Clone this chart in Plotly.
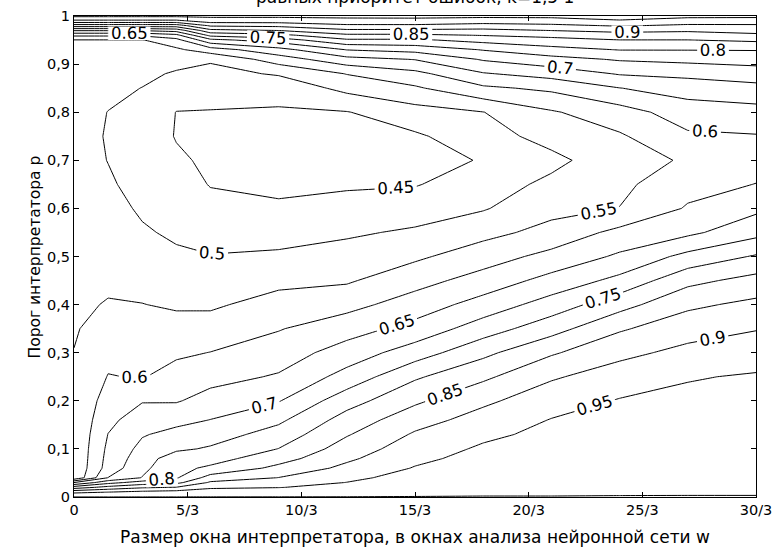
import plotly.graph_objects as go

# window size (in network analysis windows), 0 .. 30/3
x_w = [0, 0.5, 1, 1.5, 2, 3, 4, 5, 6, 7, 8, 9, 10]
# interpreter threshold p
y_p = [0, 0.01, 0.02, 0.03, 0.04, 0.06, 0.08, 0.1, 0.13, 0.16, 0.2, 0.25, 0.3, 0.35,
       0.4, 0.45, 0.5, 0.55, 0.6, 0.65, 0.7, 0.75, 0.8, 0.85, 0.88, 0.91, 0.93, 0.95,
       0.96, 0.97, 0.98, 0.99, 1.0]

# error values, one column per window size (bottom -> top)
z_w00 = [1.0005, 0.94, 0.825, 0.7, 0.557, 0.557, 0.556, 0.556, 0.555, 0.555, 0.554, 0.553, 0.551,
         0.546, 0.541, 0.535, 0.53, 0.528, 0.525, 0.522, 0.52, 0.522, 0.525, 0.528, 0.529,
         0.534, 0.541, 0.548, 0.61, 0.705, 0.825, 0.94, 1.01]
z_w05 = [1.0005, 0.951, 0.867, 0.783, 0.701, 0.67, 0.665, 0.66, 0.651, 0.638, 0.622, 0.602,
         0.586, 0.569, 0.553, 0.542, 0.533, 0.524, 0.515, 0.506, 0.499, 0.496, 0.499, 0.514,
         0.524, 0.534, 0.541, 0.548, 0.61, 0.705, 0.825, 0.94, 1.01]
z_w10 = [1.0005, 0.964, 0.893, 0.821, 0.752, 0.738, 0.726, 0.714, 0.696, 0.675, 0.647, 0.597,
         0.582, 0.566, 0.551, 0.535, 0.52, 0.505, 0.494, 0.484, 0.474, 0.477, 0.488, 0.499,
         0.5125, 0.5275, 0.5375, 0.5475, 0.61, 0.705, 0.825, 0.94, 1.01]
z_w15 = [1.0005, 0.971, 0.902, 0.836, 0.795, 0.786, 0.777, 0.741, 0.715, 0.686, 0.646, 0.619,
         0.592, 0.567, 0.544, 0.526, 0.507, 0.493, 0.481, 0.469, 0.457, 0.4475, 0.449, 0.476,
         0.494, 0.52, 0.541, 0.584, 0.636, 0.72, 0.825, 0.94, 1.01]
z_w20 = [1.0005, 0.982, 0.94, 0.907, 0.871, 0.809, 0.78, 0.756, 0.727, 0.701, 0.669, 0.633,
         0.601, 0.57, 0.543, 0.522, 0.502, 0.482, 0.463, 0.448, 0.442, 0.443, 0.448, 0.468,
         0.485, 0.506, 0.577, 0.686, 0.764, 0.836, 0.907, 0.975, 1.01]
z_w30 = [1.0005, 0.985, 0.948, 0.924, 0.901, 0.863, 0.83, 0.801, 0.771, 0.74, 0.697, 0.655,
         0.625, 0.597, 0.568, 0.538, 0.508, 0.48, 0.454, 0.444, 0.438, 0.439, 0.445, 0.467,
         0.505, 0.575, 0.633, 0.725, 0.786, 0.851, 0.9125, 0.975, 1.01]
z_w40 = [1.0005, 0.99, 0.97, 0.951, 0.9375, 0.9125, 0.891, 0.873, 0.846, 0.821, 0.779, 0.718,
         0.672, 0.629, 0.584, 0.544, 0.519, 0.493, 0.464, 0.445, 0.434, 0.437, 0.448, 0.514,
         0.552, 0.633, 0.702, 0.792, 0.84, 0.89, 0.94, 0.986, 1.01]
z_w50 = [1.0005, 0.996, 0.987, 0.978, 0.97, 0.953, 0.939, 0.926, 0.906, 0.88, 0.841, 0.793,
         0.725, 0.667, 0.623, 0.582, 0.541, 0.507, 0.476, 0.447, 0.433, 0.443, 0.48, 0.543,
         0.586, 0.652, 0.717, 0.792, 0.84, 0.89, 0.94, 0.9875, 1.01]
z_w60 = [1.0005, 0.998, 0.993, 0.989, 0.984, 0.975, 0.966, 0.957, 0.94, 0.92, 0.89, 0.84,
         0.7875, 0.725, 0.67, 0.62, 0.577, 0.535, 0.496, 0.475, 0.453, 0.478, 0.499, 0.591,
         0.646, 0.705, 0.753, 0.817, 0.852, 0.888, 0.929, 0.978, 1.01]
z_w70 = [1.0005, 0.998, 0.995, 0.992, 0.989, 0.983, 0.977, 0.971, 0.962, 0.952, 0.929, 0.894,
         0.844, 0.78, 0.722, 0.667, 0.615, 0.566, 0.535, 0.512, 0.486, 0.519, 0.545, 0.61,
         0.67, 0.733, 0.783, 0.834, 0.864, 0.901, 0.938, 0.982, 1.01]
z_w80 = [1.0005, 0.9988, 0.9964, 0.994, 0.9916, 0.987, 0.982, 0.977, 0.97, 0.963, 0.953, 0.924,
         0.887, 0.844, 0.781, 0.714, 0.658, 0.614, 0.551, 0.539, 0.532, 0.544, 0.579, 0.649,
         0.704, 0.755, 0.802, 0.849, 0.881, 0.912, 0.955, 0.998, 1.01]
z_w90 = [1.0005, 0.999, 0.997, 0.995, 0.993, 0.989, 0.985, 0.98, 0.974, 0.968, 0.96, 0.947,
         0.9135, 0.879, 0.84, 0.786, 0.715, 0.639, 0.605, 0.582, 0.555, 0.592, 0.625, 0.672,
         0.713, 0.763, 0.802, 0.849, 0.878, 0.907, 0.94, 0.982, 1.01]
z_w100 = [1.0005, 0.999, 0.997, 0.9955, 0.9935, 0.99, 0.986, 0.982, 0.977, 0.971, 0.964, 0.954,
          0.931, 0.897, 0.862, 0.817, 0.755, 0.684, 0.639, 0.601, 0.58, 0.597, 0.632, 0.685,
          0.726, 0.77, 0.803, 0.859, 0.891, 0.916, 0.942, 0.979, 1.01]

z_cols = [z_w00, z_w05, z_w10, z_w15, z_w20, z_w30, z_w40, z_w50, z_w60, z_w70, z_w80,
          z_w90, z_w100]
z = [list(row) for row in zip(*z_cols)]

x_tickvals = [0, 5 / 3, 10 / 3, 5, 20 / 3, 25 / 3, 10]
x_ticktext = ["0", "5/3", "10/3", "15/3", "20/3", "25/3", "30/3"]
y_tickvals = [0, 0.1, 0.2, 0.3, 0.4, 0.5, 0.6, 0.7, 0.8, 0.9, 1.0]
y_ticktext = ["0", "0,1", "0,2", "0,3", "0,4", "0,5", "0,6", "0,7", "0,8", "0,9", "1"]

title_text = "равных приоритет ошибок, k=1,5·1"
x_title = "Размер окна интерпретатора, в окнах анализа нейронной сети w"
y_title = "Порог интерпретатора p"

FONT = "DejaVu Sans"

fig = go.Figure(go.Contour(
    x=x_w, y=y_p, z=z,
    autocontour=False,
    contours=dict(start=0.45, end=1.001, size=0.05, coloring="lines",
                  showlabels=True, labelformat=".2~f",
                  labelfont=dict(family=FONT, size=16.5, color="black")),
    line=dict(width=1, smoothing=0),
    colorscale=[[0, "black"], [1, "black"]],
    showscale=False,
    hoverinfo="skip",
))

axis_common = dict(showline=True, linecolor="black", linewidth=1, mirror="ticks",
                   ticks="inside", ticklen=5, tickcolor="black", showgrid=False,
                   zeroline=False, tickfont=dict(family=FONT, size=14.5, color="black"))

fig.update_xaxes(range=[0, 10], tickvals=x_tickvals, ticktext=x_ticktext, **axis_common)
fig.update_yaxes(range=[0, 1], tickvals=y_tickvals, ticktext=y_ticktext, **axis_common)

fig.update_layout(
    width=776, height=550, autosize=False,
    margin=dict(l=74, r=20, t=16, b=53, autoexpand=False),
    paper_bgcolor="white", plot_bgcolor="white",
    font=dict(family=FONT, color="black"),
    showlegend=False,
    annotations=[
        dict(text=title_text, xref="paper", yref="paper", x=0.5, y=1.0147,
             xanchor="center", yanchor="bottom", showarrow=False,
             font=dict(family=FONT, size=17, color="black")),
        dict(text=x_title, xref="paper", yref="paper", x=0.5, y=-0.0832,
             xanchor="center", yanchor="middle", showarrow=False,
             font=dict(family=FONT, size=17, color="black")),
        dict(text=y_title, xref="paper", yref="paper", x=-0.0572, y=0.5,
             xanchor="center", yanchor="middle", textangle=-90, showarrow=False,
             font=dict(family=FONT, size=15.5, color="black")),
    ],
)

fig.write_html("out.html", config={"displayModeBar": False},
               post_script="document.body.style.margin='0';document.body.style.overflow='hidden';")
